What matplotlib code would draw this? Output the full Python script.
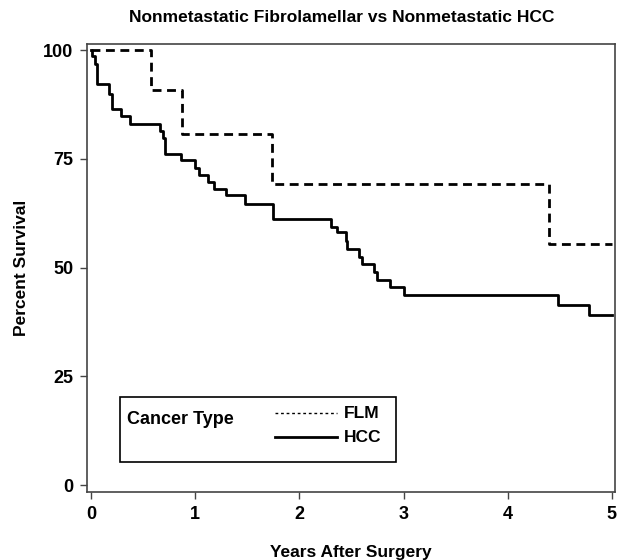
import matplotlib
matplotlib.use("Agg")
import matplotlib.pyplot as plt
from matplotlib.lines import Line2D
from matplotlib.patches import Rectangle

plt.rcParams['font.family'] = ['Liberation Sans', 'DejaVu Sans']

# Kaplan-Meier step data (years, percent survival)
flm_time = [0.0, 0.57, 0.87, 1.74, 4.40, 5.0]
flm_surv = [100.0, 90.9, 80.8, 69.3, 55.4, 55.4]

hcc_time = [0.0, 0.01, 0.04, 0.055, 0.17, 0.20, 0.29, 0.37, 0.66, 0.69, 0.71,
            0.86, 1.00, 1.04, 1.12, 1.18, 1.29, 1.48, 1.75, 2.30, 2.36, 2.45,
            2.46, 2.57, 2.60, 2.72, 2.74, 2.87, 3.00, 4.48, 4.78, 5.0]
hcc_surv = [100.0, 98.6, 96.7, 92.1, 89.8, 86.4, 84.9, 83.0, 81.4, 79.9, 76.2,
            74.7, 73.0, 71.3, 69.6, 68.0, 66.7, 64.7, 61.2, 59.4, 58.1, 56.2,
            54.3, 52.5, 50.8, 48.9, 47.2, 45.5, 43.6, 41.4, 39.1, 39.1]

x_ticks = [0, 1, 2, 3, 4, 5]
y_ticks = [0, 25, 50, 75, 100]
series_labels = ["FLM", "HCC"]

fig = plt.figure(figsize=(6.23, 5.6), dpi=100)
ax = fig.add_axes([87/623, 1-492/560, (615-87)/623, (492-44)/560])

ax.step(flm_time, flm_surv, where='post', color='black', lw=2.0,
        linestyle=(0, (3.2, 2.0)))
ax.step(hcc_time, hcc_surv, where='post', color='black', lw=2.0)

ax.set_xlim(-0.04, 5.03)
ax.set_ylim(-1.6, 101.4)
ax.set_xticks(x_ticks)
ax.set_yticks(y_ticks)
ax.set_xticklabels([str(t) for t in x_ticks], fontsize=13, fontweight='bold')
ax.set_yticklabels([str(t) for t in y_ticks], fontsize=13, fontweight='bold')
ax.tick_params(direction='out', length=5, width=1, color='#444444', pad=5)
for s in ax.spines.values():
    s.set_color('#444444')
    s.set_linewidth(1.2)

ax.set_xlabel("Years After Surgery", fontsize=12.5, fontweight='bold', labelpad=16)
ax.set_ylabel("Percent Survival", fontsize=12.5, fontweight='bold', labelpad=10)
fig.text(342/623, 1-18/560, "Nonmetastatic Fibrolamellar vs Nonmetastatic HCC",
         ha='center', va='center', fontsize=12.5, fontweight='bold')

# Legend box (figure coordinates)
ft = fig.transFigure
W, H = 623.0, 560.0
fig.patches.append(Rectangle((120/W, 1-462/H), (396-120)/W, (462-397)/H,
                             transform=ft, fill=False, edgecolor='black', lw=1.2))
fig.text(127/W, 1-419/H, "Cancer Type", fontsize=13, fontweight='bold',
         ha='left', va='center')
fig.lines.append(Line2D([275/W, 337/W], [1-413/H, 1-413/H], transform=ft,
                        color='black', lw=1.0, linestyle=(0, (2, 2))))
fig.lines.append(Line2D([275/W, 337/W], [1-437/H, 1-437/H], transform=ft,
                        color='black', lw=2.0))
fig.text(344/W, 1-414/H, series_labels[0], fontsize=12.5, fontweight='bold',
         ha='left', va='center')
fig.text(344/W, 1-437/H, series_labels[1], fontsize=12.5, fontweight='bold',
         ha='left', va='center')

fig.savefig("out.png", dpi=100)
